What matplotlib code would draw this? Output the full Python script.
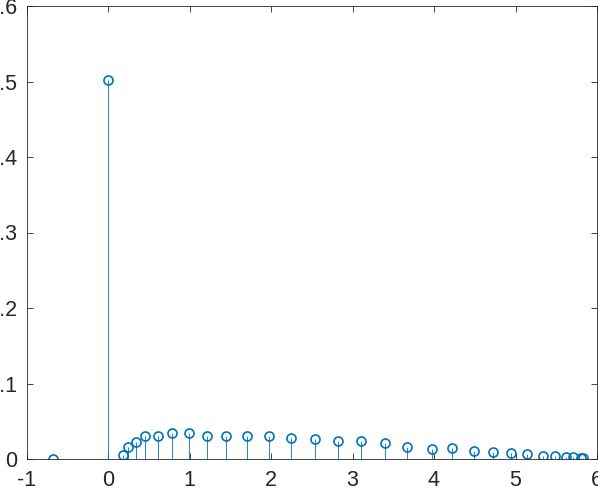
import numpy as np
import matplotlib.pyplot as plt

# stem positions and heights
x = [-0.67, 0.0, 0.19, 0.25, 0.34, 0.46, 0.61, 0.78, 0.99, 1.21, 1.45, 1.70, 1.97,
     2.25, 2.54, 2.82, 3.10, 3.40, 3.67, 3.98, 4.22, 4.49, 4.73, 4.94, 5.14,
     5.34, 5.49, 5.62, 5.71, 5.80, 5.83]
y = [0.0, 0.502, 0.005, 0.016, 0.0225, 0.030, 0.031, 0.034, 0.035, 0.031, 0.030,
     0.0305, 0.0305, 0.028, 0.026, 0.0235, 0.024, 0.021, 0.016, 0.013, 0.014,
     0.0106, 0.009, 0.0075, 0.0066, 0.004, 0.0044, 0.0022, 0.002, 0.0015, 0.001]

xticks = [-1, 0, 1, 2, 3, 4, 5, 6]
xlabels = ['-1', '0', '1', '2', '3', '4', '5', '6']
yticks = [0, 0.1, 0.2, 0.3, 0.4, 0.5, 0.6]
ylabels = ['0', '0.1', '0.2', '0.3', '0.4', '0.5', '0.6']

plt.rcParams['font.family'] = ['Liberation Sans', 'DejaVu Sans']

fig = plt.figure(figsize=(5.98, 4.96), dpi=100)
ax = fig.add_axes([26.5 / 598, 37 / 496, 570.5 / 598, 453 / 496])

blue = '#0072BD'
ml, sl, bl = ax.stem(x, y, basefmt=' ')
plt.setp(sl, color=blue, linewidth=0.6)
plt.setp(ml, color=blue, markerfacecolor='none', markersize=6.5, markeredgewidth=1.2)

ax.set_xlim(-1, 6)
ax.set_ylim(0, 0.6)
ax.set_xticks(xticks)
ax.set_xticklabels(xlabels)
ax.set_yticks(yticks)
ax.set_yticklabels(ylabels)
ax.tick_params(direction='in', length=4, width=0.6, colors='#262626',
               labelsize=15.5, top=True, right=True, labeltop=False, labelright=False)
ax.tick_params(axis='x', pad=8)
ax.tick_params(axis='y', pad=7)
for s in ax.spines.values():
    s.set_color('#262626')
    s.set_linewidth(0.6)

fig.savefig('out.png', dpi=100)
